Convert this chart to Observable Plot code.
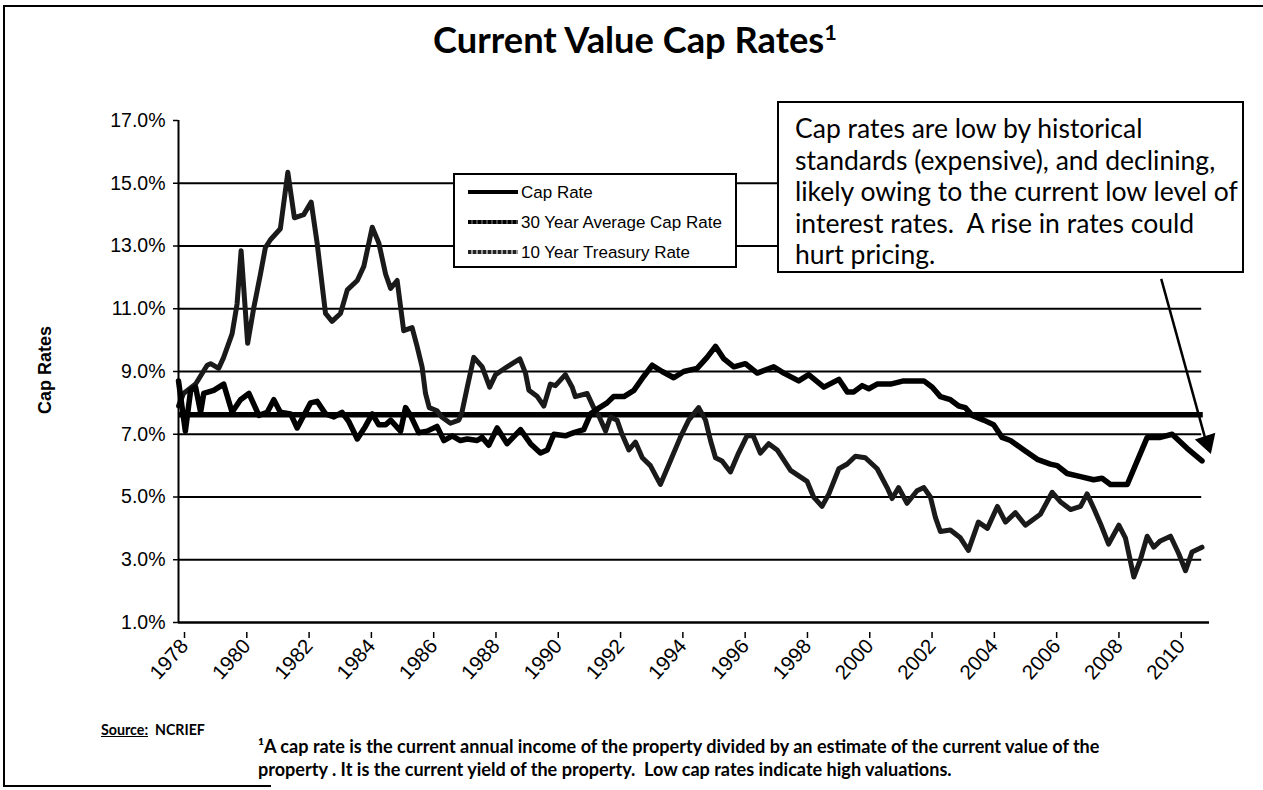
<!DOCTYPE html>
<html><head><meta charset="utf-8">
<script src="https://cdn.jsdelivr.net/npm/d3@7"></script>
<script src="https://cdn.jsdelivr.net/npm/@observablehq/plot@0.6"></script>
<style>
html,body{margin:0;padding:0;background:#fff;}
#page{position:relative;width:1263px;height:790px;overflow:hidden;font-family:"Liberation Sans",Arial,sans-serif;color:#000;background:#fff;}
.abs{position:absolute;white-space:nowrap;}
#chart{position:absolute;left:0;top:95px;}
#title{font-family:Lato,"Open Sans",sans-serif;font-weight:700;font-size:28px;line-height:1;}
#title sup{font-size:60%;vertical-align:0;position:relative;top:-0.6em;}
#note{left:777px;top:101px;width:467px;height:172px;border:2px solid #000;background:#fff;box-sizing:border-box;}
#note .ln{position:absolute;left:16px;font-family:Lato,"Open Sans",sans-serif;font-size:21px;line-height:1;white-space:pre;}
#legend{left:453px;top:173px;width:284px;height:95px;border:2px solid #000;background:#fff;box-sizing:border-box;}
#legend .sw{position:absolute;left:13px;width:50px;height:4px;}
#legend .lb{position:absolute;left:66px;font-size:15px;line-height:1;}
#ylab{font-weight:700;font-size:18px;transform:translate(-50%,-50%) rotate(-90deg);left:45px;top:370px;}
.foot{font-family:Lato,"Open Sans",sans-serif;font-weight:700;font-size:14px;line-height:1;white-space:pre;}
</style></head>
<body><div id="page">
<div class="abs" style="left:3px;top:5px;width:1260px;height:2px;background:#000"></div>
<div class="abs" style="left:3px;top:5px;width:2px;height:782px;background:#000"></div>
<div class="abs" style="left:3px;top:785px;width:268px;height:2px;background:#000"></div>
<div id="chart"></div>
<div id="title" class="abs"></div>
<div id="ylab" class="abs"></div>
<div id="legend" class="abs"></div>
<div id="note" class="abs"></div>
<div id="src" class="abs foot" style="left:101px;top:723px"></div>
<div id="fn1" class="abs foot" style="left:258px;top:737px"></div>
<div id="fn2" class="abs foot" style="left:258px;top:760px"></div>
</div>
<script>
// ---------- data ----------
const titleText = "Current Value Cap Rates";
const yAxisTitle = "Cap Rates";
const xTicks = [1978,1980,1982,1984,1986,1988,1990,1992,1994,1996,1998,2000,2002,2004,2006,2008,2010];
const yTicks = [1,3,5,7,9,11,13,15,17];
const gridValues = [3,5,7,9,11,13,15];
const seriesNames = ["Cap Rate","30 Year Average Cap Rate","10 Year Treasury Rate"];
const avg30 = 7.62;
// [decimal year, percent]
const capRate = [
[1978.0,8.7],[1978.22,7.1],[1978.39,8.4],[1978.55,8.5],[1978.71,7.7],[1978.81,8.3],[1979.13,8.4],[1979.45,8.6],
[1979.72,7.7],[1979.99,8.1],[1980.26,8.3],[1980.58,7.6],[1980.85,7.7],[1981.06,8.1],[1981.27,7.7],[1981.6,7.65],
[1981.81,7.2],[1981.97,7.5],[1982.24,8.0],[1982.45,8.05],[1982.72,7.65],[1982.99,7.55],[1983.25,7.7],[1983.47,7.4],
[1983.74,6.85],[1984.0,7.25],[1984.22,7.65],[1984.43,7.3],[1984.65,7.3],[1984.81,7.45],[1985.13,7.1],[1985.29,7.85],
[1985.45,7.6],[1985.71,7.05],[1985.98,7.1],[1986.3,7.25],[1986.52,6.8],[1986.79,6.95],[1987.05,6.8],[1987.27,6.85],
[1987.59,6.8],[1987.75,6.9],[1987.96,6.65],[1988.23,7.2],[1988.55,6.7],[1988.98,7.15],[1989.3,6.7],[1989.62,6.4],
[1989.84,6.5],[1990.05,7.0],[1990.42,6.95],[1990.69,7.05],[1991.01,7.15],[1991.23,7.65],[1991.44,7.8],[1991.76,8.0],
[1991.97,8.2],[1992.3,8.2],[1992.62,8.4],[1992.94,8.85],[1993.21,9.2],[1993.53,9.0],[1993.9,8.8],[1994.22,9.0],
[1994.65,9.1],[1994.97,9.45],[1995.24,9.8],[1995.51,9.4],[1995.83,9.15],[1996.2,9.25],[1996.58,8.95],[1997.11,9.15],
[1997.43,8.95],[1997.91,8.7],[1998.23,8.9],[1998.72,8.5],[1999.2,8.75],[1999.47,8.35],[1999.68,8.35],[1999.95,8.55],
[2000.16,8.45],[2000.43,8.6],[2000.86,8.6],[2001.28,8.7],[2001.93,8.7],[2002.2,8.5],[2002.46,8.2],[2002.78,8.1],
[2003.05,7.9],[2003.26,7.85],[2003.48,7.6],[2003.85,7.45],[2004.17,7.3],[2004.44,6.9],[2004.71,6.8],[2005.14,6.5],
[2005.57,6.2],[2005.99,6.05],[2006.21,6.0],[2006.53,5.75],[2006.96,5.65],[2007.38,5.55],[2007.65,5.6],[2007.92,5.4],
[2008.46,5.4],[2008.78,6.15],[2009.1,6.9],[2009.52,6.9],[2009.9,7.0],[2010.38,6.55],[2010.86,6.15]
];
const treasury = [
[1978.0,7.9],[1978.16,8.3],[1978.55,8.6],[1978.92,9.2],[1979.03,9.25],[1979.29,9.1],[1979.45,9.45],[1979.72,10.2],
[1979.88,11.15],[1980.01,12.85],[1980.22,9.9],[1980.42,11.05],[1980.63,12.1],[1980.79,12.95],[1980.95,13.2],[1981.27,13.55],
[1981.51,15.35],[1981.72,13.9],[1982.02,14.0],[1982.26,14.4],[1982.45,13.1],[1982.72,10.85],[1982.93,10.6],[1983.2,10.85],
[1983.42,11.6],[1983.74,11.9],[1983.95,12.35],[1984.22,13.6],[1984.43,13.1],[1984.65,12.1],[1984.81,11.65],[1985.02,11.9],
[1985.23,10.3],[1985.5,10.4],[1985.66,9.8],[1985.82,9.15],[1985.93,8.3],[1986.05,7.85],[1986.3,7.75],[1986.45,7.55],
[1986.73,7.35],[1987.0,7.45],[1987.1,7.7],[1987.27,8.5],[1987.48,9.45],[1987.75,9.15],[1987.99,8.5],[1988.18,8.9],
[1988.55,9.15],[1988.96,9.4],[1989.14,8.95],[1989.25,8.4],[1989.52,8.2],[1989.73,7.9],[1989.94,8.6],[1990.1,8.55],
[1990.42,8.9],[1990.64,8.5],[1990.74,8.2],[1991.12,8.3],[1991.33,7.85],[1991.49,7.6],[1991.71,7.1],[1991.87,7.55],
[1992.08,7.45],[1992.24,7.0],[1992.46,6.5],[1992.67,6.75],[1992.89,6.25],[1993.15,6.0],[1993.47,5.4],[1993.79,6.15],
[1994.11,6.9],[1994.38,7.45],[1994.7,7.85],[1994.92,7.45],[1995.08,6.8],[1995.24,6.25],[1995.45,6.15],[1995.72,5.8],
[1995.98,6.4],[1996.25,6.95],[1996.45,6.95],[1996.68,6.4],[1996.95,6.7],[1997.22,6.5],[1997.65,5.85],[1998.18,5.5],
[1998.39,5.0],[1998.66,4.7],[1998.88,5.1],[1999.2,5.9],[1999.47,6.05],[1999.73,6.3],[2000.05,6.25],[2000.43,5.9],
[2000.75,5.3],[2000.91,4.95],[2001.12,5.3],[2001.39,4.8],[2001.71,5.2],[2001.93,5.3],[2002.14,5.0],[2002.3,4.35],
[2002.46,3.9],[2002.78,3.95],[2003.1,3.7],[2003.36,3.3],[2003.68,4.2],[2003.97,4.0],[2004.29,4.7],[2004.55,4.2],
[2004.87,4.5],[2005.19,4.1],[2005.67,4.45],[2006.05,5.15],[2006.31,4.85],[2006.64,4.6],[2006.96,4.7],[2007.17,5.1],
[2007.38,4.65],[2007.6,4.15],[2007.86,3.5],[2008.19,4.1],[2008.4,3.7],[2008.67,2.45],[2008.88,3.0],[2009.1,3.75],
[2009.31,3.4],[2009.52,3.6],[2009.85,3.75],[2010.11,3.2],[2010.33,2.65],[2010.54,3.25],[2010.86,3.4]
];
const noteLines = ["Cap rates are low by historical","standards (expensive), and declining,","likely owing to the current low level of","interest rates.  A rise in rates could","hurt pricing."];
const sourceLabel = "Source:";
const sourceName = "NCRIEF";
const footLines = ["\u00B9A cap rate is the current annual income of the property divided by an estimate of the current value of the",
                   "property . It is the current yield of the property.  Low cap rates indicate high valuations."];
// annotation arrow (data space)
const arrowFrom = [2009.55, 11.95];
const arrowTo = [2011.05, 6.55];
const arrowHead = [2011.02, 6.75];

// ---------- chart ----------
const P = d => d[0], V = d => d[1];
const chart = Plot.plot({
  width: 1263, height: 610,
  marginLeft: 178, marginRight: 54, marginTop: 25, marginBottom: 83,
  x: {domain: [1978, 2011.1]},
  y: {domain: [1, 17]},
  style: {fontFamily: '"Liberation Sans", Arial, sans-serif', fontSize: "18px", color: "#000", background: "transparent", overflow: "visible"},
  marks: [
    Plot.ruleY(gridValues, {x1: 1978, x2: 2010.85, stroke: "#000", strokeWidth: 2}),
    Plot.ruleY([avg30], {x1: 1978, x2: 2010.9, stroke: "#000", strokeWidth: 5.5}),
    Plot.line(treasury, {x: P, y: V, stroke: "#1a1a1a", strokeWidth: 5, strokeLinejoin: "round", strokeLinecap: "round"}),
    Plot.line(capRate, {x: P, y: V, stroke: "#000", strokeWidth: 5.5, strokeLinejoin: "round", strokeLinecap: "round"}),
    Plot.ruleX([1978], {y1: 1, y2: 17, stroke: "#000", strokeWidth: 2}),
    Plot.ruleY([1], {x1: 1978, x2: 2011.1, stroke: "#000", strokeWidth: 2.5}),
    Plot.axisX({ticks: xTicks, tickFormat: d => String(d), tickSize: 6, tickRotate: -48, tickPadding: 4, dx: 6, dy: 10, fontSize: 20.5, label: null, strokeWidth: 1.5}),
    Plot.axisY({ticks: yTicks, tickFormat: d => d.toFixed(1) + "%", tickSize: 5, tickPadding: 8, fontSize: 19.5, label: null, strokeWidth: 1.5}),
    Plot.link([{a: arrowFrom, b: arrowTo}], {x1: d => d.a[0], y1: d => d.a[1], x2: d => d.b[0], y2: d => d.b[1], stroke: "#000", strokeWidth: 2.5}),
    Plot.dot([arrowHead], {x: P, y: V, symbol: "triangle", r: 8, fill: "#000", stroke: "none", rotate: 162})
  ]
});
document.getElementById("chart").appendChild(chart);

// ---------- text ----------
function fit(el, target) {
  const w = el.getBoundingClientRect().width;
  const fs = parseFloat(getComputedStyle(el).fontSize);
  el.style.fontSize = (fs * target / w) + "px";
}
const title = document.getElementById("title");
title.innerHTML = titleText + "<sup>1</sup>";
fit(title, 404);
title.style.left = (635 - title.getBoundingClientRect().width / 2) + "px";
title.style.top = (50 - title.getBoundingClientRect().height * 0.8) + "px";

document.getElementById("ylab").textContent = yAxisTitle;

const legend = document.getElementById("legend");
const swStyles = [
  "background:#000",
  "background:repeating-linear-gradient(90deg,#000 0 3px,#444 3px 5px)",
  "background:repeating-linear-gradient(90deg,#222 0 3px,#999 3px 5px)"
];
seriesNames.forEach((n, i) => {
  const cy = 17 + i * 30;
  const sw = document.createElement("div"); sw.className = "sw"; sw.style.cssText = swStyles[i]; sw.style.top = (cy - 2) + "px";
  legend.appendChild(sw);
  const lb = document.createElement("div"); lb.className = "lb"; lb.textContent = n; lb.style.top = (cy - 8) + "px";
  legend.appendChild(lb);
});
const lbs = legend.querySelectorAll(".lb");
fit(lbs[1], 201);
lbs.forEach(l => l.style.fontSize = lbs[1].style.fontSize);

const note = document.getElementById("note");
noteLines.forEach((t, i) => {
  const d = document.createElement("div"); d.className = "ln"; d.textContent = t; d.style.top = (12 + i * 31.5) + "px";
  note.appendChild(d);
});
const lns = note.querySelectorAll(".ln");
fit(lns[2], 443);
lns.forEach(l => l.style.fontSize = lns[2].style.fontSize);

const src = document.getElementById("src");
src.innerHTML = '<span style="text-decoration:underline">' + sourceLabel + '</span>  ' + sourceName;
fit(src, 104);
const fn1 = document.getElementById("fn1"), fn2 = document.getElementById("fn2");
fn1.textContent = footLines[0]; fn2.textContent = footLines[1];
fit(fn1, 842);
fn2.style.fontSize = fn1.style.fontSize;
</script>
</body></html>
